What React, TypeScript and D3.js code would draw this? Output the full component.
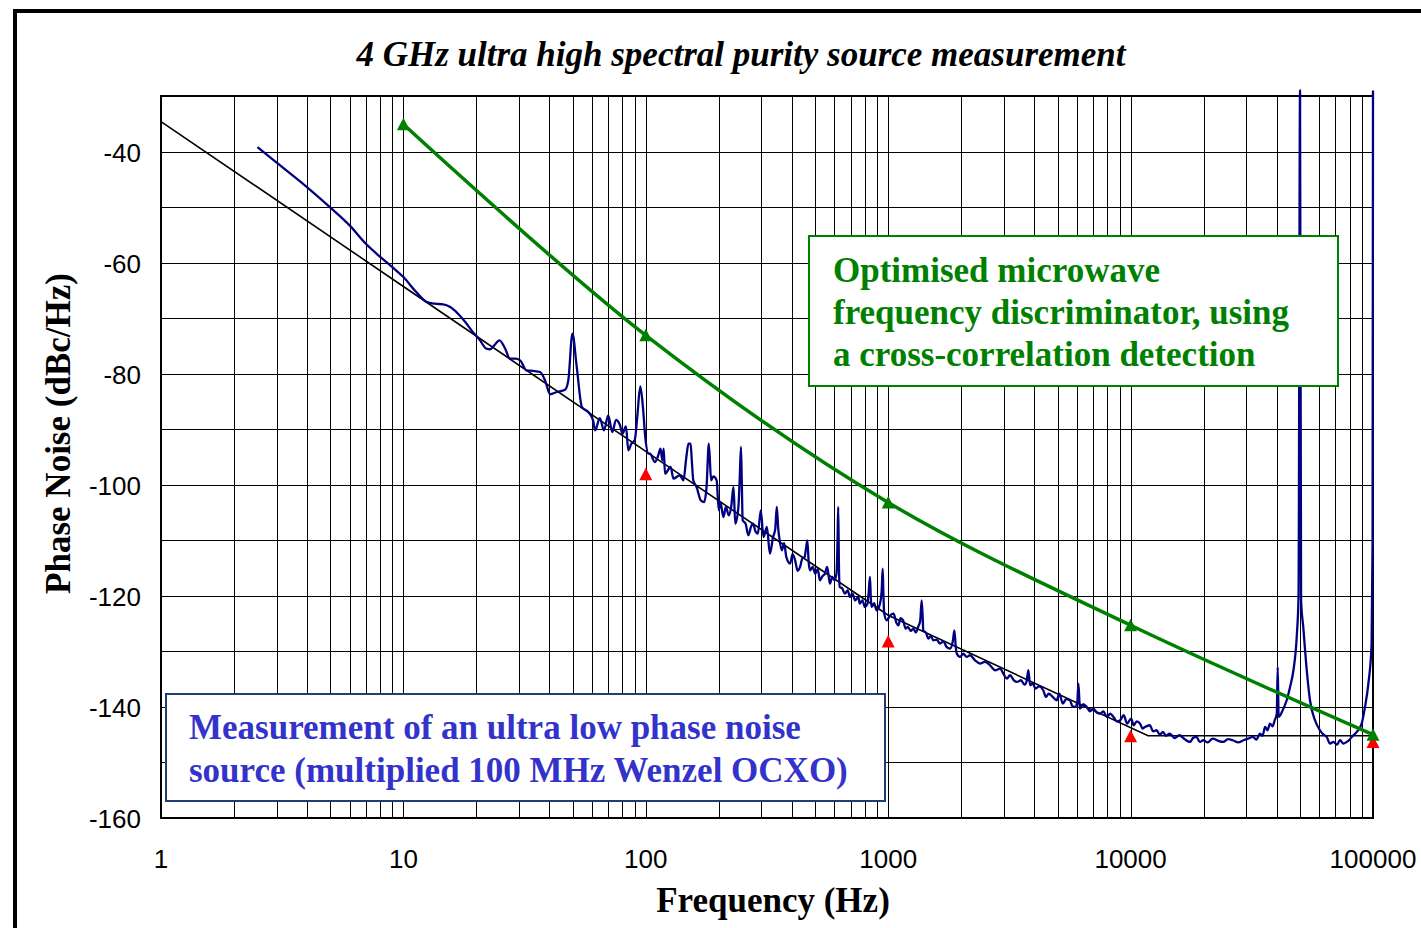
import React from 'react';
import * as d3 from 'd3';

const xTickValues = [1, 10, 100, 1000, 10000, 100000];
const xTickLabels = ['1', '10', '100', '1000', '10000', '100000'];
const yTickValues = [-40, -60, -80, -100, -120, -140, -160];
const yGridValues = [-150, -140, -130, -120, -110, -100, -90, -80, -70, -60, -50, -40];

const titleText = '4 GHz ultra high spectral purity source measurement';
const xAxisTitle = 'Frequency (Hz)';
const yAxisTitle = 'Phase Noise (dBc/Hz)';
const greenLegendLines = ['Optimised microwave', 'frequency discriminator, using', 'a cross-correlation detection'];
const blueLegendLines = ['Measurement of an ultra low phase noise', 'source (multiplied 100 MHz Wenzel OCXO)'];

// Discriminator noise floor (green, triangles)
const discriminator: [number, number][] = [
  [10, -35.1], [100, -73.1], [1000, -103.2], [10000, -125.3], [100000, -145.0],
];
// Red triangle markers
const specPoints: [number, number][] = [
  [100, -98.1], [1000, -128.2], [10000, -145.3], [100000, -146.3],
];
// Black asymptotic model line
const modelLine: [number, number][] = [
  [1, -34.6], [10, -64.3], [100, -94.0], [1000, -123.5], [11800, -145.2], [100000, -145.2],
];
// Measured phase noise (navy trace)
const measured: [number, number][] = [
  [2.5, -39.2], [3, -42.0], [4, -46.4], [5, -50.1], [6, -53.3], [7, -56.6], [7.8, -58.5], [9, -60.8],
  [10, -62.6], [11.3, -65.3], [12.5, -67.1], [13.5, -67.4], [14.6, -67.5], [15.6, -68.0], [16.8, -69.2],
  [18, -70.7], [19.1, -72.2], [20.7, -74.0], [22.0, -75.5], [22.8, -75.6], [23.6, -75.0], [24.9, -74.0],
  [26.3, -75.5], [27.5, -77.3], [28.9, -77.3], [30.3, -77.6], [32.2, -79.4], [34.3, -79.5], [36.6, -79.7],
  [38.4, -81.2], [40.3, -83.7], [42.9, -83.3], [46.4, -82.9], [47.9, -81.2], [49.8, -72.8], [51.9, -78.8],
  [54.5, -86.0], [57.9, -86.9], [60.6, -88.4], [61.8, -90.2], [64.6, -88.0], [67.2, -90.2], [70.0, -87.5],
  [72.7, -90.5], [75.4, -88.3], [78.3, -89.3], [80.1, -90.8], [82.8, -89.5], [84.7, -93.8], [87.2, -92.6],
  [90, -92.0], [92.2, -87.8], [94.9, -82.3], [97.3, -86.0], [99.5, -91.4], [102.7, -94.4], [104, -94.4],
  [109, -95.9], [112, -95.0], [115, -93.5], [117, -95.6], [118.5, -93.5], [120, -98.0], [126.6, -96.8],
  [130, -98.9], [138, -98.3], [143, -99.2], [147, -95], [150, -92.6], [153, -92.6], [155, -96], [157, -99.2],
  [162, -100.4], [168.6, -102.8], [174, -103.1], [178, -100.5], [182, -92.6], [186, -99.2], [190, -98.5],
  [196, -99.2], [200, -104.6], [203, -103.1], [209, -105.8], [214, -104.0], [220, -105.5], [225, -104],
  [230, -100.4], [234, -107.0], [241, -104], [244, -99], [247, -93.2], [249, -100], [251, -106.4],
  [258, -107], [265, -109.1], [272, -107.5], [277, -107], [284, -108.5], [290, -108.8], [298, -104.6],
  [306, -109.4], [316, -107.6], [325, -112.4], [335, -109.4], [342, -108], [347, -104.0], [352, -108],
  [355, -109.4], [364, -111.8], [372, -110.5], [380, -113.0], [394, -114.2], [403, -112.5], [413, -113.6],
  [423, -115.5], [433, -114.8], [443, -113.2], [452, -113], [458, -111.5], [464, -110], [470, -114],
  [476, -115.4], [488, -114.8], [500, -116], [512, -115.2], [523, -117.2], [535, -116.5], [548, -116],
  [560, -114.8], [575, -117.8], [588, -116.6], [600, -117.2], [612, -116], [618, -110], [622, -104.0],
  [626, -114], [630, -118.4], [645, -118.6], [663, -119.6], [680, -119], [696, -120.2], [712, -119.6],
  [730, -120.8], [753, -120.2], [763, -121.4], [782, -120.8], [802, -122], [820, -121.5], [832, -119],
  [841, -116.6], [848, -120.5], [854, -122], [875, -121.3], [896, -122.6], [925, -121.4], [940, -119],
  [949, -115.1], [956, -120], [963, -123.2], [986, -124.4], [1020, -123.5], [1053, -123.2], [1080, -124.8],
  [1101, -125.3], [1125, -124], [1152, -124.4], [1180, -125.9], [1206, -125.6], [1240, -126.3],
  [1270, -125.9], [1300, -126.6], [1329, -125.6], [1355, -124.5], [1374, -120.8], [1388, -124],
  [1395, -126.2], [1430, -126.6], [1466, -127.7], [1500, -127.2], [1535, -128], [1585, -127.9],
  [1636, -128.6], [1690, -128.2], [1741, -129.2], [1800, -129.5], [1850, -128], [1875, -126.2],
  [1900, -129.2], [1918, -130.4], [1978, -131.0], [2040, -130.4], [2108, -131], [2175, -130.7],
  [2280, -131.6], [2392, -132.2], [2500, -131.9], [2632, -132.5], [2760, -133.4], [2894, -133.1],
  [3000, -134.2], [3090, -134.9], [3180, -134.3], [3300, -135.2], [3400, -135.5], [3530, -135.2],
  [3650, -136.0], [3720, -135.5], [3787, -133.4], [3850, -136.1], [3950, -135.8], [4050, -136.7],
  [4200, -136.3], [4360, -137.0], [4480, -138.2], [4590, -137.6], [4770, -138.2], [4955, -138.8],
  [5080, -137.6], [5250, -139.4], [5420, -138.6], [5620, -138.8], [5760, -139.9], [5900, -140.0],
  [6030, -139], [6090, -135.8], [6150, -139], [6180, -140.3], [6380, -139.5], [6590, -140], [6800, -140.8],
  [7020, -140.3], [7250, -141], [7480, -141.2], [7720, -140.8], [7980, -141.8], [8240, -141.2],
  [8500, -141.8], [8780, -142.6], [9060, -142.4], [9360, -141.5], [9680, -143.0], [10050, -142.1],
  [10300, -143.3], [10600, -142.6], [10940, -143.0], [11200, -143.9], [11460, -143.6], [12000, -143.3],
  [12400, -144.4], [12800, -144.2], [13200, -145.0], [13600, -144.5], [14000, -145.2], [14500, -144.8],
  [15200, -145.6], [15900, -145.1], [16700, -145.8], [17600, -146.3], [18100, -145.6], [18700, -145.4],
  [19300, -146.3], [19950, -146.0], [20800, -146.4], [21800, -145.7], [23000, -146.1], [24100, -146.3],
  [25200, -145.8], [26400, -146.0], [27800, -146.4], [29200, -146.0], [30500, -145.7], [32000, -145.4],
  [33000, -145.9], [34200, -144.8], [35000, -145.2], [35900, -143.6], [36700, -144.2], [37600, -143.0],
  [38500, -143.5], [39300, -142.4], [40100, -141.2], [40450, -132.8], [40800, -141.8], [42400, -140.6],
  [44050, -138.8], [45480, -136.4], [46970, -133.4], [48450, -127.4], [49300, -120], [50000, -29],
  [50500, -120.8], [51550, -125.6], [53300, -133.4], [54950, -138.8], [57640, -142.4], [60400, -144.2],
  [62500, -145.0], [64400, -145.4], [66500, -146.6], [68600, -146.3], [71000, -146.8], [73100, -146.0],
  [75500, -146.6], [77900, -146.3], [80000, -145.9], [81700, -145.4], [85700, -144.5], [89800, -143.0],
  [92700, -140.0], [95700, -135.8], [98700, -128.6], [99600, -110], [100000, -29],
];

const W = 1421;
const H = 928;
const plot = { left: 161, right: 1373, top: 96, bottom: 818 };

const serif = "'Liberation Serif', 'Times New Roman', serif";
const sans = "'Liberation Sans', Arial, sans-serif";

export default function App() {
  const x = d3.scaleLog().domain([1, 100000]).range([plot.left, plot.right]);
  const y = d3.scaleLinear().domain([-160, -30]).range([plot.bottom, plot.top]);

  const crisp = (v: number) => Math.round(v) + 0.5;

  const vGrid: number[] = [];
  for (let e = 0; e < 5; e++) {
    for (let k = 1; k <= 9; k++) {
      const f = k * Math.pow(10, e);
      if (f > 1 && f < 100000) vGrid.push(f);
    }
  }

  const linePath = d3.line<[number, number]>().x((d) => x(d[0])).y((d) => y(d[1]));
  const measuredPath = d3
    .line<[number, number]>()
    .x((d) => x(d[0]))
    .y((d) => y(d[1]))
    .curve(d3.curveMonotoneX);
  const greenPath = d3
    .line<[number, number]>()
    .x((d) => x(d[0]))
    .y((d) => y(d[1]))
    .curve(d3.curveCatmullRom.alpha(0.5));

  const tri = (cx: number, cy: number) =>
    `M${cx},${cy - 6.5}L${cx + 6.5},${cy + 6}L${cx - 6.5},${cy + 6}Z`;

  return (
    <svg
      width={W}
      height={H}
      style={{ position: 'absolute', left: 0, top: 0, background: '#fff' }}
    >
      <rect x={0} y={0} width={W} height={H} fill="#fff" />
      {/* outer frame */}
      <rect x={15} y={11} width={W + 40} height={H + 40} fill="none" stroke="#000" strokeWidth={4} />

      {/* title */}
      <text
        x={741}
        y={66}
        textAnchor="middle"
        fontFamily={serif}
        fontWeight="bold"
        fontStyle="italic"
        fontSize={35}
        fill="#000"
      >
        {titleText}
      </text>

      {/* gridlines */}
      <g stroke="#000" strokeWidth={1}>
        {yGridValues.map((v) => (
          <line key={'h' + v} x1={plot.left} x2={plot.right} y1={crisp(y(v))} y2={crisp(y(v))} />
        ))}
        {vGrid.map((f) => (
          <line key={'v' + f} x1={crisp(x(f))} x2={crisp(x(f))} y1={plot.top} y2={plot.bottom} />
        ))}
      </g>

      {/* plot border */}
      <rect
        x={plot.left}
        y={plot.top}
        width={plot.right - plot.left}
        height={plot.bottom - plot.top}
        fill="none"
        stroke="#000"
        strokeWidth={2}
      />

      {/* y tick marks */}
      <g stroke="#000" strokeWidth={1}>
        {yGridValues.map((v) => (
          <line key={'t' + v} x1={plot.left} x2={plot.left + 6} y1={crisp(y(v))} y2={crisp(y(v))} />
        ))}
      </g>

      {/* model line */}
      <path d={linePath(modelLine) || ''} fill="none" stroke="#000" strokeWidth={1.6} />

      {/* measured trace */}
      <path
        d={measuredPath(measured) || ''}
        fill="none"
        stroke="#000080"
        strokeWidth={2.3}
        strokeLinejoin="round"
      />

      {/* red markers */}
      {specPoints.map((d, i) => (
        <path key={'r' + i} d={tri(x(d[0]), y(d[1]))} fill="#ff0000" />
      ))}

      {/* green discriminator line */}
      <path d={greenPath(discriminator) || ''} fill="none" stroke="#008000" strokeWidth={3.5} />
      {discriminator.map((d, i) => (
        <path key={'g' + i} d={tri(x(d[0]), y(d[1]))} fill="#008000" />
      ))}

      {/* green legend box */}
      <rect x={809} y={236} width={529} height={150} fill="#fff" stroke="#008000" strokeWidth={2} />
      {greenLegendLines.map((t, i) => (
        <text
          key={'gl' + i}
          x={833}
          y={282 + i * 42}
          fontFamily={serif}
          fontWeight="bold"
          fontSize={35}
          fill="#008000"
        >
          {t}
        </text>
      ))}

      {/* blue legend box */}
      <rect x={166} y={694} width={719} height={107} fill="#fff" stroke="#1f3f73" strokeWidth={2} />
      {blueLegendLines.map((t, i) => (
        <text
          key={'bl' + i}
          x={189}
          y={739 + i * 42.5}
          fontFamily={serif}
          fontWeight="bold"
          fontSize={35}
          fill="#3333cc"
        >
          {t}
        </text>
      ))}

      {/* y tick labels */}
      {yTickValues.map((v) => (
        <text
          key={'yl' + v}
          x={141}
          y={y(v) + 10}
          textAnchor="end"
          fontFamily={sans}
          fontSize={26}
          fill="#000"
        >
          {v}
        </text>
      ))}

      {/* x tick labels */}
      {xTickValues.map((v, i) => (
        <text
          key={'xl' + v}
          x={x(v)}
          y={868}
          textAnchor="middle"
          fontFamily={sans}
          fontSize={26}
          fill="#000"
        >
          {xTickLabels[i]}
        </text>
      ))}

      {/* axis titles */}
      <text
        x={773}
        y={912}
        textAnchor="middle"
        fontFamily={serif}
        fontWeight="bold"
        fontSize={35}
        fill="#000"
      >
        {xAxisTitle}
      </text>
      <text
        transform="translate(70,433.5) rotate(-90)"
        textAnchor="middle"
        fontFamily={serif}
        fontWeight="bold"
        fontSize={35}
        fill="#000"
      >
        {yAxisTitle}
      </text>
    </svg>
  );
}
